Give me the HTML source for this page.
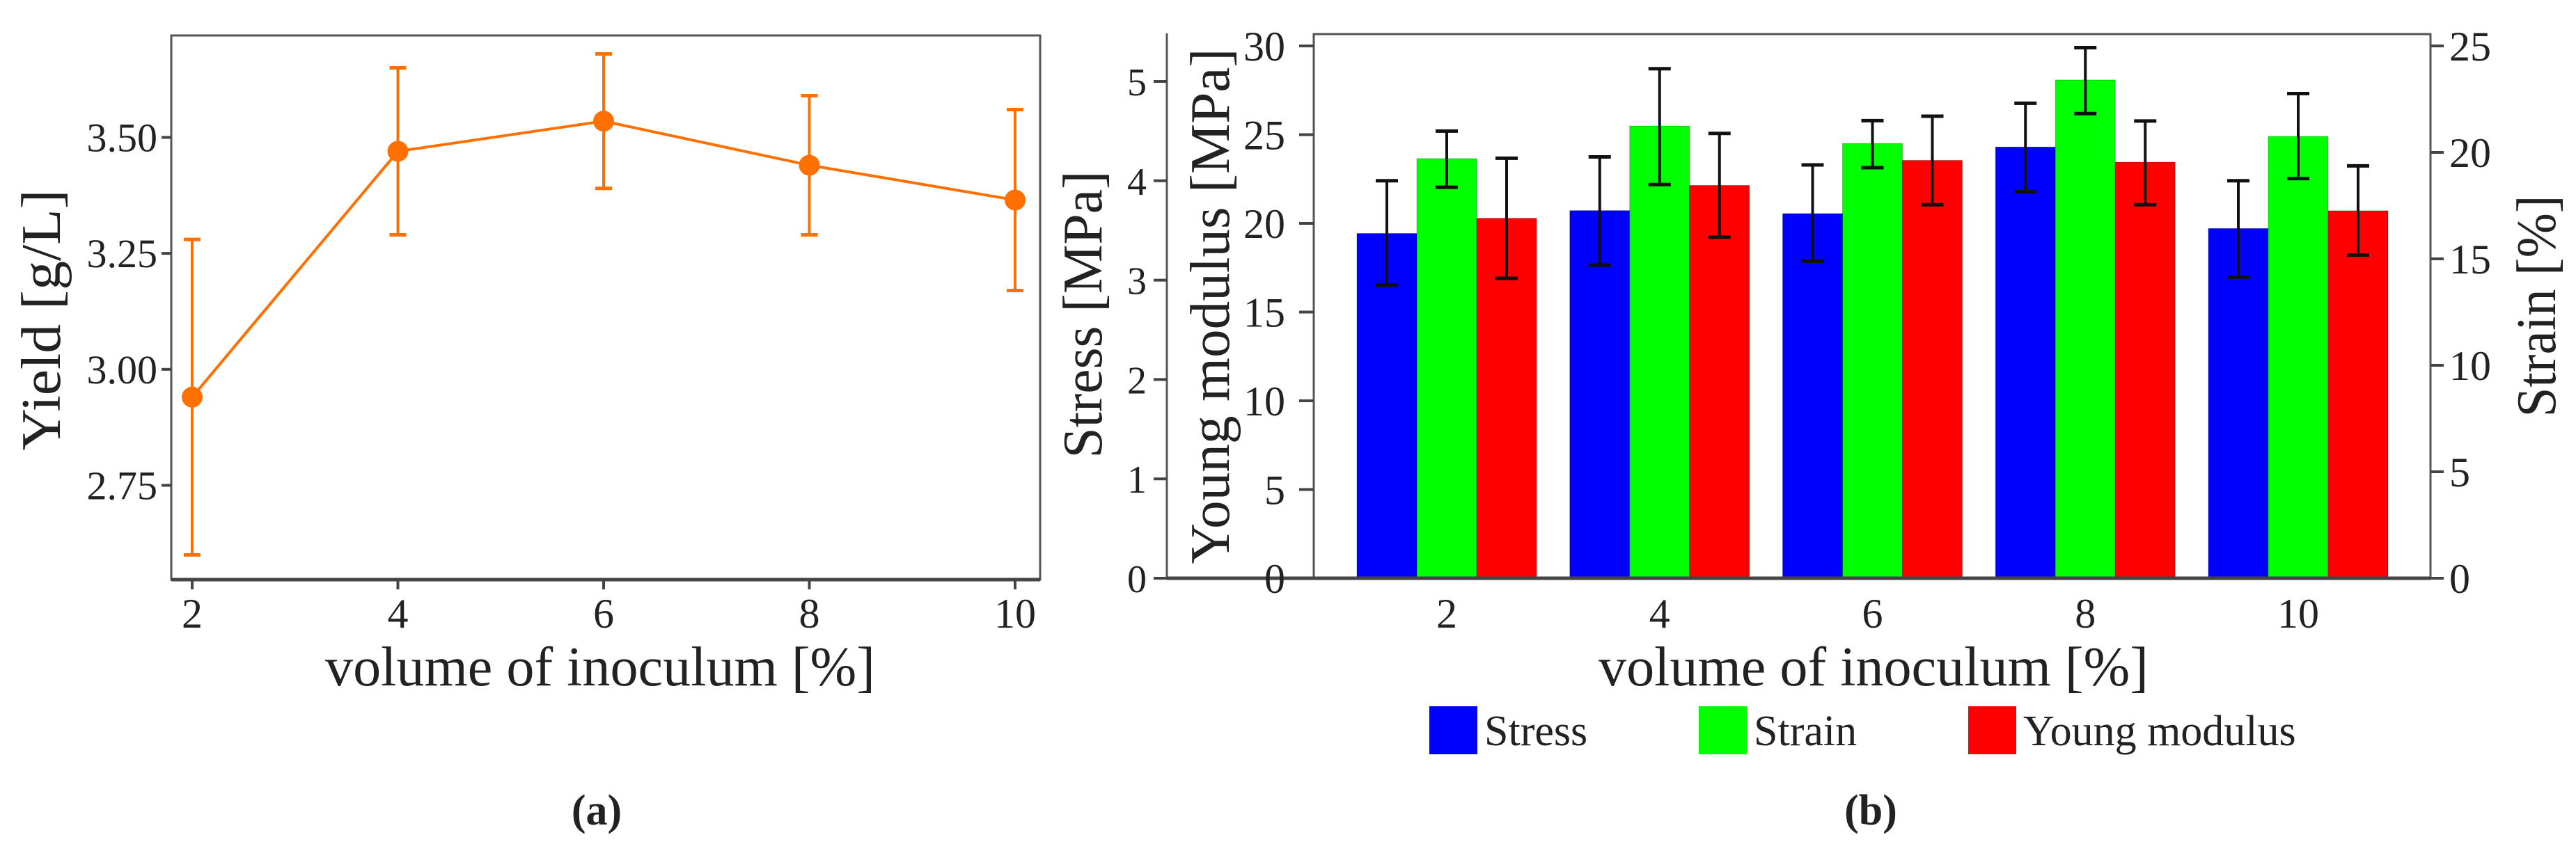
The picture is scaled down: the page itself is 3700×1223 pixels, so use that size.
<!DOCTYPE html>
<html><head><meta charset="utf-8"><style>
html,body{margin:0;padding:0;background:#fff}
svg{display:block}
text{font-family:"Liberation Serif",serif;fill:#222}
</style></head><body>
<svg id="fig" width="3700" height="1223" viewBox="0 0 3700 1223" xmlns="http://www.w3.org/2000/svg">
<g id="pa"></g>
<g id="pb"></g>
<text x="857" y="1185" font-size="62" font-weight="bold" text-anchor="middle">(a)</text>
<text x="2687" y="1185" font-size="62" font-weight="bold" text-anchor="middle">(b)</text>
</svg>
<script>
// ---------- Panel (a) data ----------
const yieldX = [2, 4, 6, 8, 10];
const yieldMean = [2.94, 3.47, 3.535, 3.44, 3.365];
const yieldLo = [2.60, 3.29, 3.39, 3.29, 3.17];
const yieldHi = [3.28, 3.65, 3.68, 3.59, 3.56];
const yieldTicks = [2.75, 3.00, 3.25, 3.50];
const yieldTickLabels = ["2.75", "3.00", "3.25", "3.50"];
const xTicksA = [2, 4, 6, 8, 10];

// ---------- Panel (b) data ----------
const categories = ["2", "4", "6", "8", "10"];
const stressVal = [3.47, 3.70, 3.67, 4.34, 3.52];
const stressLo = [2.95, 3.15, 3.19, 3.89, 3.03];
const stressHi = [4.00, 4.24, 4.16, 4.78, 4.00];
const strainVal = [19.71, 21.24, 20.42, 23.40, 20.75];
const strainLo = [18.36, 18.49, 19.28, 21.82, 18.77];
const strainHi = [21.0, 23.93, 21.49, 24.92, 22.76];
const ymVal = [20.29, 22.14, 23.55, 23.45, 20.71];
const ymLo = [16.9, 19.22, 21.05, 21.05, 18.21];
const ymHi = [23.67, 25.07, 26.04, 25.77, 23.24];
const stressTicks = [0, 1, 2, 3, 4, 5];
const ymTicks = [0, 5, 10, 15, 20, 25, 30];
const strainTicks = [0, 5, 10, 15, 20, 25];

const NS = "http://www.w3.org/2000/svg";
function mk(parent, tag, attrs, txt) {
  const e = document.createElementNS(NS, tag);
  for (const k in attrs) e.setAttribute(k, attrs[k]);
  if (txt !== undefined) e.textContent = txt;
  parent.appendChild(e);
  return e;
}

// ===== Panel A =====
const pa = document.getElementById('pa');
const aL = 246, aR = 1494, aT = 51, aB = 833;
const xA = v => 276 + (v - 2) / 8 * (1458 - 276);
const yA = v => 530.8 - (v - 3.0) * 666.7;
let e;
e = mk(pa, 'rect', {x: aL, y: aT, width: aR - aL, height: aB - aT, fill: 'none', stroke: '#555', 'stroke-width': 3});


e = mk(pa, 'line', {x1: aL, y1: aB, x2: aR, y2: aB, stroke: '#444', 'stroke-width': 5});


yieldTicks.forEach((t, i) => {
  const y = yA(t);
  let l = mk(pa, 'line', {x1: aL - 14, y1: y, x2: aL, y2: y, stroke: '#444', 'stroke-width': 4});
  
  
  let tx = mk(pa, 'text', {x: aL - 20, y: y + 20, 'font-size': 58, 'text-anchor': 'end'}, yieldTickLabels[i]);
  
  
});
xTicksA.forEach(t => {
  const x = xA(t);
  let l = mk(pa, 'line', {x1: x, y1: aB, x2: x, y2: aB + 14, stroke: '#444', 'stroke-width': 4});
  
  
  let tx = mk(pa, 'text', {x: x, y: 902, 'font-size': 60, 'text-anchor': 'middle'}, String(t));
  
  
});
e = mk(pa, 'text', {x: 862, y: 985, 'font-size': 80, 'text-anchor': 'middle', textLength: 790, lengthAdjust: 'spacingAndGlyphs'}, 'volume of inoculum [%]');


e = mk(pa, 'text', {x: 0, y: 0, 'font-size': 80, 'text-anchor': 'middle', transform: 'translate(86,460) rotate(-90)', textLength: 375, lengthAdjust: 'spacingAndGlyphs'}, 'Yield [g/L]');


const orange = '#ff7000';
e = mk(pa, 'polyline', {points: yieldX.map((x, i) => xA(x) + ',' + yA(yieldMean[i])).join(' '), fill: 'none', stroke: orange, 'stroke-width': 4});


yieldX.forEach((x, i) => {
  const cx = xA(x);
  let g = mk(pa, 'g', {});
  
  
  mk(g, 'line', {x1: cx, y1: yA(yieldLo[i]), x2: cx, y2: yA(yieldHi[i]), stroke: orange, 'stroke-width': 4});
  mk(g, 'line', {x1: cx - 12, y1: yA(yieldLo[i]), x2: cx + 12, y2: yA(yieldLo[i]), stroke: orange, 'stroke-width': 5});
  mk(g, 'line', {x1: cx - 12, y1: yA(yieldHi[i]), x2: cx + 12, y2: yA(yieldHi[i]), stroke: orange, 'stroke-width': 5});
  let c = mk(pa, 'circle', {cx: cx, cy: yA(yieldMean[i]), r: 15, fill: orange});
  
  
});

// ===== Panel B =====
const pb = document.getElementById('pb');
const bL = 1887, bR = 3491, bT = 49, bB = 831;
const xB = i => 2078 + i * 305.75;
const yYM = v => bB - v / 30 * (bB - 66);
const yStress = v => bB - v * 142.8;
const yStrain = v => bB - v / 25 * (bB - 66);
const barW = 86;
e = mk(pb, 'rect', {x: bL, y: bT, width: bR - bL, height: bB - bT, fill: 'none', stroke: '#555', 'stroke-width': 3});


e = mk(pb, 'line', {x1: 1676, y1: 48, x2: 1676, y2: bB, stroke: '#555', 'stroke-width': 3});



const series = [
  {name: 'stress', vals: stressVal, lo: stressLo, hi: stressHi, y: yStress, color: '#0000ff', off: -1},
  {name: 'strain', vals: strainVal, lo: strainLo, hi: strainHi, y: yStrain, color: '#00ff00', off: 0},
  {name: 'young-modulus', vals: ymVal, lo: ymLo, hi: ymHi, y: yYM, color: '#ff0000', off: 1}
];
series.forEach(s => {
  categories.forEach((c, i) => {
    const cx = xB(i) + s.off * barW;
    const top = s.y(s.vals[i]);
    let r = mk(pb, 'rect', {x: cx - barW / 2, y: top, width: barW, height: bB - top, fill: s.color, stroke: 'rgba(0,0,0,0.25)', 'stroke-width': 1});
    
    
  });
});
series.forEach(s => {
  categories.forEach((c, i) => {
    const cx = xB(i) + s.off * barW;
    const y1 = s.y(s.lo[i]), y2 = s.y(s.hi[i]);
    let g = mk(pb, 'g', {stroke: '#111'});
    
    
    mk(g, 'line', {x1: cx, y1: y1, x2: cx, y2: y2, 'stroke-width': 4});
    mk(g, 'line', {x1: cx - 16, y1: y1, x2: cx + 16, y2: y1, 'stroke-width': 5});
    mk(g, 'line', {x1: cx - 16, y1: y2, x2: cx + 16, y2: y2, 'stroke-width': 5});
  });
});
e = mk(pb, 'line', {x1: 1676, y1: bB, x2: bR, y2: bB, stroke: '#444', 'stroke-width': 5});



stressTicks.forEach(t => {
  const y = yStress(t);
  let l = mk(pb, 'line', {x1: 1657, y1: y, x2: 1676, y2: y, stroke: '#444', 'stroke-width': 4});
  
  
  let tx = mk(pb, 'text', {x: 1647, y: y + 20, 'font-size': 56, 'text-anchor': 'end'}, String(t));
  
  
});
ymTicks.forEach(t => {
  const y = yYM(t);
  let l = mk(pb, 'line', {x1: 1866, y1: y, x2: bL, y2: y, stroke: '#444', 'stroke-width': 4});
  
  
  let tx = mk(pb, 'text', {x: 1846, y: y + 21, 'font-size': 60, 'text-anchor': 'end'}, String(t));
  
  
});
strainTicks.forEach(t => {
  const y = yStrain(t);
  let l = mk(pb, 'line', {x1: bR, y1: y, x2: bR + 19, y2: y, stroke: '#444', 'stroke-width': 4});
  
  
  let tx = mk(pb, 'text', {x: 3518, y: y + 21, 'font-size': 60, 'text-anchor': 'start'}, String(t));
  
  
});
categories.forEach((c, i) => {
  let tx = mk(pb, 'text', {x: xB(i), y: 902, 'font-size': 60, 'text-anchor': 'middle'}, c);
  
  
});
e = mk(pb, 'text', {x: 2691, y: 985, 'font-size': 80, 'text-anchor': 'middle', textLength: 790, lengthAdjust: 'spacingAndGlyphs'}, 'volume of inoculum [%]');


e = mk(pb, 'text', {x: 0, y: 0, 'font-size': 80, 'text-anchor': 'middle', transform: 'translate(1582,452) rotate(-90)', textLength: 413, lengthAdjust: 'spacingAndGlyphs'}, 'Stress [MPa]');


e = mk(pb, 'text', {x: 0, y: 0, 'font-size': 80, 'text-anchor': 'middle', transform: 'translate(1765,440) rotate(-90)', textLength: 741, lengthAdjust: 'spacingAndGlyphs'}, 'Young modulus [MPa]');


e = mk(pb, 'text', {x: 0, y: 0, 'font-size': 80, 'text-anchor': 'middle', transform: 'translate(3670,440) rotate(-90)', textLength: 319, lengthAdjust: 'spacingAndGlyphs'}, 'Strain [%]');



const legendItems = [
  {label: 'Stress', color: '#0000ff', x: 2053},
  {label: 'Strain', color: '#00ff00', x: 2440},
  {label: 'Young modulus', color: '#ff0000', x: 2827}
];
legendItems.forEach(li => {
  let g = mk(pb, 'g', {});
  
  
  mk(g, 'rect', {x: li.x, y: 1015, width: 69, height: 69, fill: li.color});
  mk(g, 'text', {x: li.x + 79, y: 1071, 'font-size': 62}, li.label);
});
</script>
</body></html>
